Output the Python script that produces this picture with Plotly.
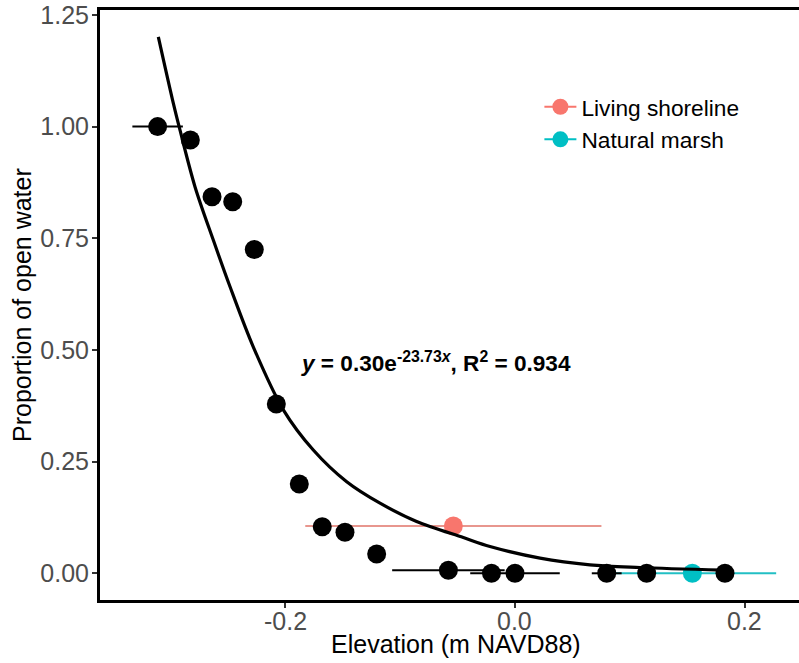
import plotly.graph_objects as go

# Black points (site means) with horizontal error (SD)
pts_x = [-0.3113, -0.2828, -0.2639, -0.2459, -0.2271, -0.2079, -0.1879, -0.1679,
         -0.1481, -0.1205, -0.0580, -0.0205, 0.0, 0.0799, 0.1147, 0.1829]
pts_y = [1.00, 0.970, 0.843, 0.832, 0.725, 0.379, 0.200, 0.104,
         0.092, 0.043, 0.007, 0.0, 0.0, 0.0, 0.0, 0.0]
pts_xerr = [0.022, 0, 0, 0, 0, 0, 0, 0, 0, 0, 0.049, 0, 0.039, 0.013, 0, 0]

# Group means
groups = ["Living shoreline", "Natural marsh"]
group_x = [-0.0537, 0.1545]
group_y = [0.106, 0.0]
group_xerr = [0.129, 0.073]
group_colors = ["#F8766D", "#00BFC4"]
group_err_colors = ["#E8968E", "#22BFC4"]

# Fitted curve
curve_x = [-0.3107, -0.2976, -0.2918, -0.2787, -0.2628, -0.2483, -0.2280, -0.2018,
           -0.1757, -0.1466, -0.1176, -0.0857, -0.0450, -0.0218, 0.0218, 0.0653,
           0.1089, 0.1815]
curve_y = [1.201, 1.052, 0.992, 0.865, 0.746, 0.642, 0.507, 0.366,
           0.276, 0.205, 0.157, 0.116, 0.080, 0.060, 0.034, 0.019,
           0.013, 0.007]

x_ticks = [-0.2, 0.0, 0.2]
x_tick_text = ["-0.2", "0.0", "0.2"]
y_ticks = [0.0, 0.25, 0.5, 0.75, 1.0, 1.25]
y_tick_text = ["0.00", "0.25", "0.50", "0.75", "1.00", "1.25"]

FONT = "Liberation Sans, Arial, sans-serif"

fig = go.Figure()

for name, gx, gy, ge, col, ecol in zip(groups, group_x, group_y, group_xerr,
                                       group_colors, group_err_colors):
    fig.add_trace(go.Scatter(
        x=[gx], y=[gy], mode="lines+markers", name=name,
        marker=dict(color=col, size=19),
        line=dict(color=col, width=2),
        error_x=dict(type="data", array=[ge], color=ecol, thickness=2, width=0),
        showlegend=True))

fig.add_trace(go.Scatter(
    x=pts_x, y=pts_y, mode="markers", showlegend=False,
    marker=dict(color="black", size=19),
    error_x=dict(type="data", array=pts_xerr, color="black", thickness=2, width=0)))

fig.add_trace(go.Scatter(
    x=curve_x, y=curve_y, mode="lines", showlegend=False,
    line=dict(color="black", width=3.2, shape="spline", smoothing=0.9)))

fig.add_annotation(
    x=-0.1885, y=0.474, xref="x", yref="y", xanchor="left", yanchor="middle",
    showarrow=False,
    text="<b><i>y</i> = 0.30e<sup>-23.73<i>x</i></sup>, R<sup>2</sup> = 0.934</b>",
    font=dict(family=FONT, size=22.6, color="black"))

# X tick labels (placed as text just under the ticks)
for tv, tt in zip(x_ticks, x_tick_text):
    fig.add_annotation(
        x=tv, y=0, xref="x", yref="paper", xanchor="center", yanchor="middle",
        yshift=-21, showarrow=False, text=tt,
        font=dict(family=FONT, size=25, color="#4D4D4D"))

# Axis titles
fig.add_annotation(
    x=0.5093, y=0, xref="paper", yref="paper", xanchor="center", yanchor="middle",
    yshift=-44, showarrow=False, text="Elevation (m NAVD88)",
    font=dict(family=FONT, size=25, color="black"))
fig.add_annotation(
    x=0, y=0.5, xref="paper", yref="paper", xanchor="center", yanchor="middle",
    xshift=-78, textangle=-90, showarrow=False, text="Proportion of open water",
    font=dict(family=FONT, size=25, color="black"))

fig.update_layout(
    width=799, height=663,
    margin=dict(l=100, r=0, t=10, b=63),
    paper_bgcolor="white", plot_bgcolor="white",
    font=dict(family=FONT, color="black"),
    legend=dict(x=0.6286, y=0.872, xanchor="left", yanchor="top",
                itemwidth=32,
                font=dict(family=FONT, size=22.7, color="black"),
                bgcolor="rgba(0,0,0,0)", tracegroupgap=0),
)

fig.update_xaxes(
    range=[-0.3615, 0.2474], tickvals=x_ticks, showticklabels=False,
    showgrid=False, zeroline=False, showline=True, linecolor="black", linewidth=3,
    mirror=True, ticks="outside", ticklen=5, tickwidth=1.5, tickcolor="#333333",
    automargin=False)

fig.update_yaxes(
    range=[-0.0598, 1.2611], tickvals=y_ticks, ticktext=y_tick_text,
    showgrid=False, zeroline=False, showline=True, linecolor="black", linewidth=3,
    mirror=False, ticks="outside", ticklen=5, tickwidth=1.5, tickcolor="#333333",
    ticklabelstandoff=-2, automargin=False,
    tickfont=dict(family=FONT, size=25, color="#4D4D4D"))

fig.write_html("out.html")
